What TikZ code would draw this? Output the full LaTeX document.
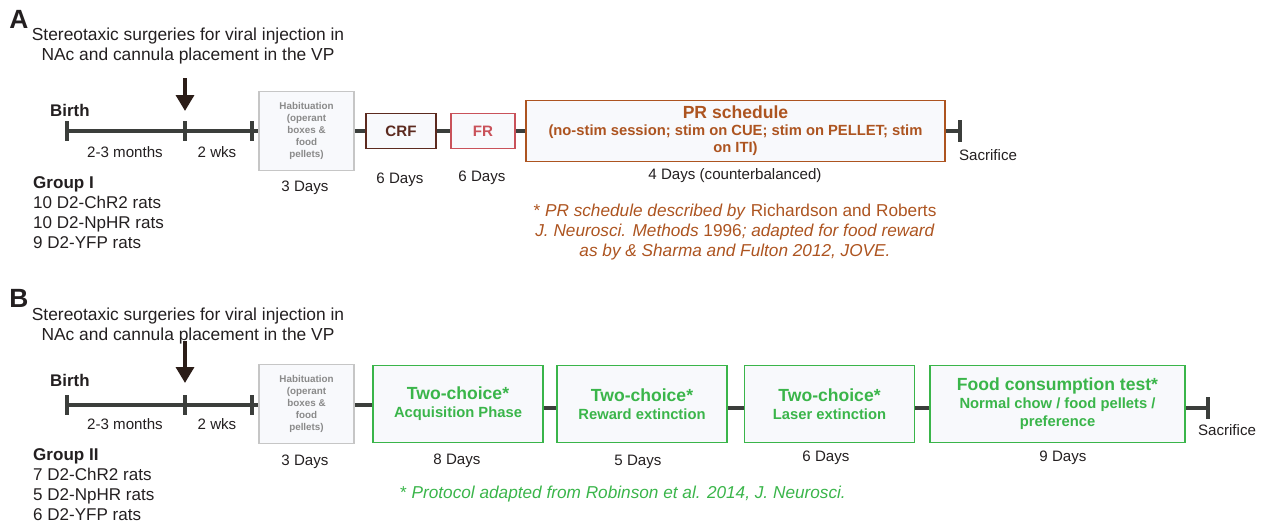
\documentclass[tikz,border=0pt]{standalone}
\usepackage{fontspec}
\setmainfont{Liberation Sans}
\usetikzlibrary{positioning,arrows.meta}
\definecolor{textdark}{HTML}{231F20}
\definecolor{linedark}{HTML}{3B3E3B}
\definecolor{arrowdark}{HTML}{2B1D18}
\definecolor{crfbrown}{HTML}{5C2A1F}
\definecolor{frred}{HTML}{C9525A}
\definecolor{prorange}{HTML}{AD5420}
\definecolor{choicegreen}{HTML}{3AB54A}
\definecolor{habgray}{HTML}{C6C6C6}
\definecolor{habtext}{HTML}{8A8A8A}
\definecolor{boxfill}{HTML}{F8F9FC}
\begin{document}
\begin{tikzpicture}[x=0.02cm, y=-0.02cm,
panel_style/.style={font=\bfseries\fontsize{15}{15}\selectfont, text=textdark},
title_style/.style={align=center, font=\fontsize{9.9}{11.2}\selectfont, text=textdark},
label_style/.style={font=\fontsize{8.6}{10}\selectfont, text=textdark},
birth_style/.style={font=\bfseries\fontsize{9.6}{10}\selectfont, text=textdark},
group_style/.style={align=left, anchor=north west, font=\fontsize{9.7}{11.5}\selectfont, text=textdark},
hab_style/.style={draw=habgray, line width=1pt, fill=boxfill, minimum width=1.9cm, minimum height=1.58cm, align=center, text=habtext, font=\bfseries\fontsize{5.6}{6.8}\selectfont},
crf_style/.style={draw=crfbrown, line width=0.9pt, fill=boxfill, minimum width=1.4cm, minimum height=0.7cm, text=crfbrown, font=\bfseries\fontsize{8.6}{10}\selectfont},
fr_style/.style={crf_style, draw=frred, minimum width=1.28cm, text=frred},
pr_style/.style={draw=prorange, line width=0.9pt, fill=boxfill, minimum width=8.38cm, minimum height=1.16cm, align=center, text=prorange, font=\bfseries\fontsize{8.4}{9.6}\selectfont},
choice_style/.style={draw=choicegreen, line width=0.9pt, fill=boxfill, minimum width=3.4cm, minimum height=1.54cm, align=center, text=choicegreen, font=\bfseries\fontsize{8.4}{10.2}\selectfont},
note_style/.style={align=center, font=\fontsize{9.8}{11.6}\selectfont},
edge_style/.style={draw=linedark, line width=2.3pt},
tick_style/.style={draw=linedark, line width=2.3pt},
arrow_style/.style={draw=arrowdark, line width=2.3pt, -{Triangle[width=10pt,length=9pt]}}]
\useasboundingbox (0,0) rectangle (1265,525);

% ---- panel A
\node[panel_style] (panelA) at (19,19) {A};
\node[title_style] (titleA) at (188,46) {Stereotaxic surgeries for viral injection in\\NAc and cannula placement in the VP};
\coordinate (arrA_top) at (185,78);
\coordinate (arrA_tip) at (185,111);
\draw[arrow_style] (arrA_top) -- (arrA_tip);
\node[birth_style, anchor=west] (birthA_txt) at (44,110) {Birth};
\coordinate (birthA) at (67,131);
\coordinate (surgA) at (185,131);
\coordinate (startA) at (252,131);
\node[hab_style] (habA) at (306.5,131) {Habituation\\(operant\\boxes \&\\food\\pellets)};
\node[crf_style] (crfA) at (401,131) {CRF};
\node[fr_style] (frA) at (483,131) {FR};
\node[pr_style] (prA) at (735.5,131) {{\fontsize{10}{11}\selectfont PR schedule}\\(no-stim session; stim on CUE; stim on PELLET; stim\\on ITI)};
\coordinate (endA) at (960,131);
\draw[edge_style] (birthA) -- (habA);
\draw[edge_style] (habA) edge (crfA);
\draw[edge_style] (crfA) edge (frA);
\draw[edge_style] (frA) edge (prA);
\draw[edge_style] (prA) edge (endA);
\foreach \t in {birthA, surgA, startA}
  \draw[tick_style] ([yshift=-5.5pt]\t) -- ([yshift=5.5pt]\t);
\draw[tick_style] ([yshift=-6pt]endA) -- ([yshift=6pt]endA);
\node[label_style] (monthsA) at (125,152) {2-3 months};
\node[label_style] (wksA) at (217,152) {2 wks};
\node[label_style] (habA_days) at (305,188) {3 Days};
\node[label_style] (crfA_days) at (400,180) {6 Days};
\node[label_style] (frA_days) at (482,178) {6 Days};
\node[label_style] (prA_days) at (735,176) {4 Days (counterbalanced)};
\node[label_style] (sacA) at (988,155) {Sacrifice};
\node[group_style] (groupA) at (27,170) {{\bfseries Group I}\\10 D2-ChR2 rats\\10 D2-NpHR rats\\9 D2-YFP rats};
\node[note_style, text=prorange] (noteA) at (735,232) {* \textit{PR schedule described by} Richardson and Roberts\\\textit{J. Neurosci. Methods} 1996\textit{; adapted for food reward}\\\textit{as by \& Sharma and Fulton 2012, JOVE.}};

% ---- panel B
\node[panel_style] (panelB) at (19,298) {B};
\node[title_style] (titleB) at (188,326) {Stereotaxic surgeries for viral injection in\\NAc and cannula placement in the VP};
\coordinate (arrB_top) at (185,341);
\coordinate (arrB_tip) at (185,383);
\draw[arrow_style] (arrB_top) -- (arrB_tip);
\node[birth_style, anchor=west] (birthB_txt) at (44,380) {Birth};
\coordinate (birthB) at (67,405);
\coordinate (surgB) at (185,405);
\coordinate (startB) at (252,405);
\node[hab_style] (habB) at (306.5,404) {Habituation\\(operant\\boxes \&\\food\\pellets)};
\node[choice_style] (acqB) at (458,404) {{\fontsize{10}{11}\selectfont Two-choice*}\\Acquisition Phase};
\node[choice_style] (rewB) at (642,404) {{\fontsize{10}{11}\selectfont Two-choice*}\\Reward extinction};
\node[choice_style] (lasB) at (829.5,404) {{\fontsize{10}{11}\selectfont Two-choice*}\\Laser extinction};
\node[choice_style, minimum width=5.1cm] (foodB) at (1057.5,404) {{\fontsize{10}{11}\selectfont Food consumption test*}\\Normal chow / food pellets /\\preference};
\coordinate (endB) at (1208,408);
\draw[edge_style] (birthB) -- (habB.west |- birthB);
\draw[edge_style] (habB.east |- birthB) edge (acqB.west |- birthB);
\draw[edge_style] ([yshift=-2pt]acqB.east) edge ([yshift=-2pt]rewB.west);
\draw[edge_style] ([yshift=-2pt]rewB.east) edge ([yshift=-2pt]lasB.west);
\draw[edge_style] ([yshift=-2pt]lasB.east) edge ([yshift=-2pt]foodB.west);
\draw[edge_style] (foodB.east |- endB) edge (endB);
\foreach \t in {birthB, surgB, startB}
  \draw[tick_style] ([yshift=-5.5pt]\t) -- ([yshift=5.5pt]\t);
\draw[tick_style] ([yshift=-6pt]endB) -- ([yshift=6pt]endB);
\node[label_style] (monthsB) at (125,424) {2-3 months};
\node[label_style] (wksB) at (217,424) {2 wks};
\node[label_style] (habB_days) at (305,462) {3 Days};
\node[label_style] (acqB_days) at (457,461) {8 Days};
\node[label_style] (rewB_days) at (638,462) {5 Days};
\node[label_style] (lasB_days) at (826,458) {6 Days};
\node[label_style] (foodB_days) at (1063,458) {9 Days};
\node[label_style] (sacB) at (1227,430) {Sacrifice};
\node[group_style] (groupB) at (27,442) {{\bfseries Group II}\\7 D2-ChR2 rats\\5 D2-NpHR rats\\6 D2-YFP rats};
\node[note_style, text=choicegreen] (noteB) at (623,494) {* \textit{Protocol adapted from Robinson et al. 2014, J. Neurosci.}};
\end{tikzpicture}
\end{document}
